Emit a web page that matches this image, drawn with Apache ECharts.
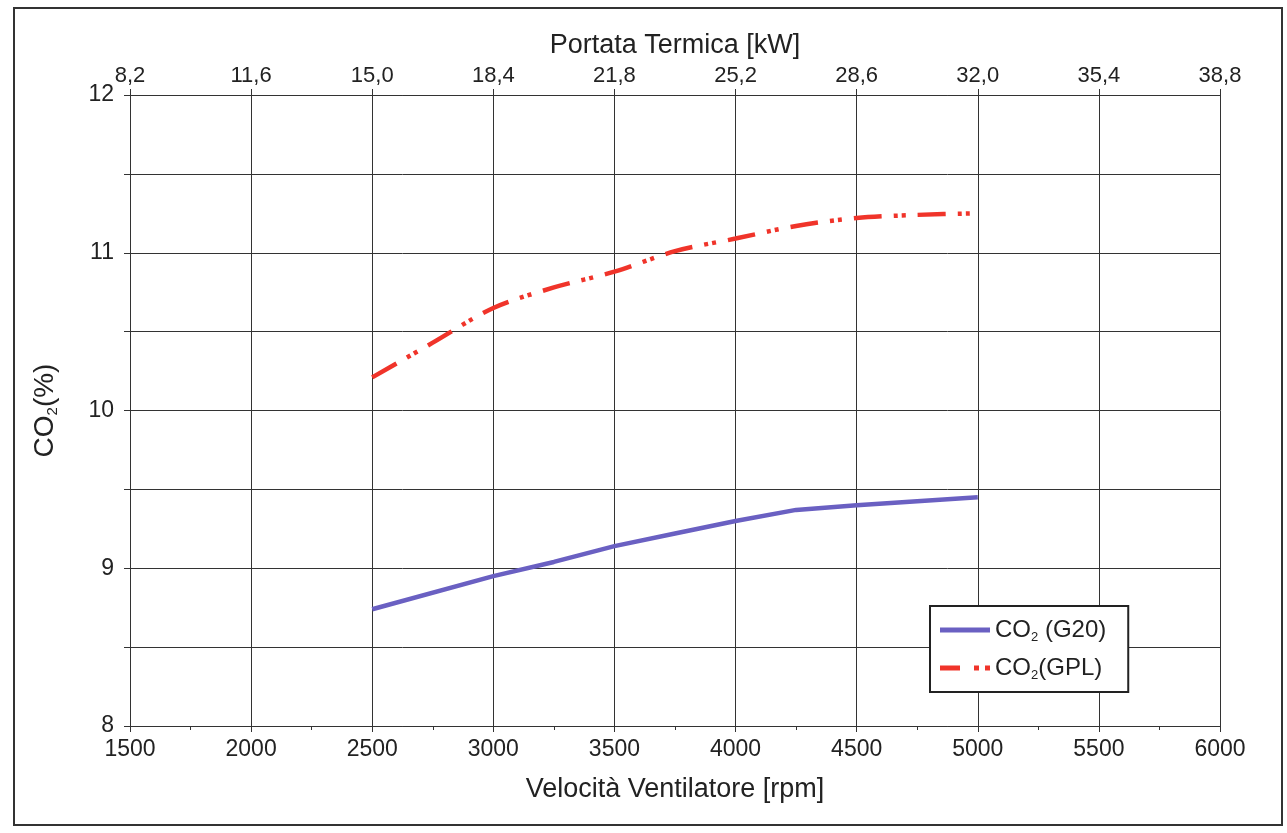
<!DOCTYPE html>
<html><head><meta charset="utf-8">
<script src="https://cdn.jsdelivr.net/npm/echarts@6/dist/echarts.min.js"></script>
<style>html,body{margin:0;padding:0;background:#fff}#c{width:1287px;height:833px}</style>
</head><body><div id="c"></div>
<script>
var rpmTicks = [1500,2000,2500,3000,3500,4000,4500,5000,5500,6000];
var kwTickLabels = ['8,2','11,6','15,0','18,4','21,8','25,2','28,6','32,0','35,4','38,8'];
var g20Rpm = [2500,3000,3250,3500,3750,4000,4250,4500,5000];
var g20CO2 = [8.74,8.95,9.04,9.14,9.22,9.30,9.37,9.40,9.45];
var gplRpm = [2500,2750,3000,3250,3500,3750,4000,4250,4500,4750,5000];
var gplCO2 = [10.21,10.43,10.65,10.78,10.88,11.01,11.09,11.17,11.22,11.24,11.25];

var FONT = '"Liberation Sans", Arial, sans-serif';
var TXT = '#222';
var LINE = '#333';
function pairs(xs, ys){ return xs.map(function(x,i){return [x, ys[i]];}); }

var chart = echarts.init(document.getElementById('c'), null, {renderer:'canvas'});
chart.setOption({
  animation:false,
  backgroundColor:'#fff',
  textStyle:{fontFamily:FONT,color:TXT},
  grid:{left:130,right:67,top:95,bottom:107,containLabel:false},
  graphic:[{type:'rect',shape:{x:14,y:8,width:1268,height:817},style:{fill:'none',stroke:'#333',lineWidth:2},silent:true}],
  xAxis:[{
    type:'value',position:'bottom',min:1500,max:6000,interval:500,
    name:'Velocità Ventilatore [rpm]',nameLocation:'middle',nameGap:50,
    nameTextStyle:{fontSize:27,color:TXT,fontFamily:FONT},
    axisLine:{show:true,lineStyle:{color:LINE,width:1}},
    axisTick:{show:true,inside:false,length:6,lineStyle:{color:LINE}},
    minorTick:{show:true,splitNumber:2,length:4,lineStyle:{color:LINE}},
    axisLabel:{fontSize:23,color:TXT,margin:12,fontFamily:FONT,
      formatter:function(v){var i=rpmTicks.indexOf(Math.round(v));return i>=0?String(rpmTicks[i]):'';}},
    splitLine:{show:true,lineStyle:{color:LINE,width:1}}
  },{
    type:'value',position:'top',min:1500,max:6000,interval:500,
    name:'Portata Termica [kW]',nameLocation:'middle',nameGap:36,
    nameTextStyle:{fontSize:27,color:TXT,fontFamily:FONT},
    axisLine:{show:true,lineStyle:{color:LINE,width:1}},
    axisTick:{show:true,inside:false,length:6,lineStyle:{color:LINE}},
    axisLabel:{fontSize:22,color:TXT,margin:8,fontFamily:FONT,
      formatter:function(v){var i=rpmTicks.indexOf(Math.round(v));return i>=0?kwTickLabels[i]:'';}},
    splitLine:{show:false}
  }],
  yAxis:{
    type:'value',min:8,max:12,interval:0.5,
    name:'{a|CO}{s|2}{a|(%)}',nameLocation:'middle',nameGap:70,nameRotate:90,
    nameTextStyle:{rich:{a:{fontSize:28,color:TXT,fontFamily:FONT,lineHeight:30},s:{fontSize:15,color:TXT,fontFamily:FONT,lineHeight:12,verticalAlign:'bottom'}}},
    axisLine:{show:true,lineStyle:{color:LINE,width:1}},
    axisTick:{show:true,inside:false,length:6,lineStyle:{color:LINE}},
    axisLabel:{fontSize:23,color:TXT,margin:16,fontFamily:FONT,
      formatter:function(v){return Math.abs(v-Math.round(v))<1e-6?String(Math.round(v)):'';}},
    splitLine:{show:true,lineStyle:{color:LINE,width:1}}
  },
  legend:{
    orient:'vertical',left:930,top:606,itemWidth:50,itemHeight:5,itemGap:12,
    padding:[12,22,10,10],symbolKeepAspect:false,
    backgroundColor:'#fff',borderColor:'#222',borderWidth:2,
    textStyle:{fontSize:24,color:TXT,fontFamily:FONT,
      rich:{a:{fontSize:24,color:TXT,fontFamily:FONT,lineHeight:28},s:{fontSize:13,color:TXT,fontFamily:FONT,lineHeight:10,verticalAlign:'bottom'}}},
    formatter:function(n){return n==='g20'?'{a|CO}{s|2}{a| (G20)}':'{a|CO}{s|2}{a|(GPL)}';},
    data:[
      {name:'g20',icon:'path://M0,0h50v5h-50z',itemStyle:{color:'#6a60c2'}},
      {name:'gpl',icon:'path://M0,0h20v5h-20z M34,0h5v5h-5z M45,0h5v5h-5z',itemStyle:{color:'#f0342a'}}
    ]
  },
  series:[{
    name:'g20',type:'line',xAxisIndex:0,data:pairs(g20Rpm,g20CO2),
    symbol:'none',smooth:false,
    lineStyle:{color:'#6a60c2',width:4.5},itemStyle:{color:'#6a60c2'}
  },{
    name:'gpl',type:'line',xAxisIndex:0,data:pairs(gplRpm,gplCO2),
    symbol:'none',smooth:0.3,
    lineStyle:{color:'#f0342a',width:4.5,type:[28,12,4,4,4,12]},itemStyle:{color:'#f0342a'}
  }]
});
</script></body></html>
